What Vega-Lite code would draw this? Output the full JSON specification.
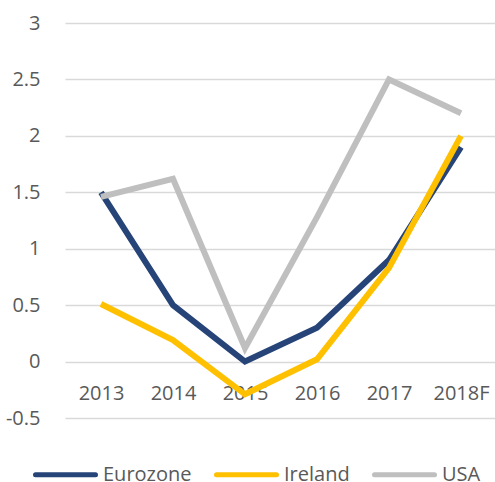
{
  "$schema": "https://vega.github.io/schema/vega-lite/v6.json",
  "autosize": "none",
  "width": 432,
  "height": 395,
  "padding": {"left": 65, "top": 23, "right": 0, "bottom": 64},
  "background": "white",
  "config": {
    "view": {"stroke": null},
    "font": "Open Sans",
    "axis": {"labelFont": "Open Sans", "labelFontSize": 20, "labelColor": "#595959"},
    "legend": {"labelFont": "Open Sans", "labelFontSize": 20, "labelColor": "#595959"}
  },
  "data": {
    "values": [
      {"year": "2013", "series": "Eurozone", "value": 1.5},
      {"year": "2014", "series": "Eurozone", "value": 0.5},
      {"year": "2015", "series": "Eurozone", "value": 0.0},
      {"year": "2016", "series": "Eurozone", "value": 0.3},
      {"year": "2017", "series": "Eurozone", "value": 0.9},
      {"year": "2018F", "series": "Eurozone", "value": 1.9},
      {"year": "2013", "series": "Ireland", "value": 0.51},
      {"year": "2014", "series": "Ireland", "value": 0.19},
      {"year": "2015", "series": "Ireland", "value": -0.29},
      {"year": "2016", "series": "Ireland", "value": 0.02},
      {"year": "2017", "series": "Ireland", "value": 0.83},
      {"year": "2018F", "series": "Ireland", "value": 2.0},
      {"year": "2013", "series": "USA", "value": 1.46},
      {"year": "2014", "series": "USA", "value": 1.62},
      {"year": "2015", "series": "USA", "value": 0.12},
      {"year": "2016", "series": "USA", "value": 1.28},
      {"year": "2017", "series": "USA", "value": 2.5},
      {"year": "2018F", "series": "USA", "value": 2.2}
    ]
  },
  "mark": {"type": "line", "strokeWidth": 6, "strokeJoin": "miter"},
  "encoding": {
    "x": {
      "field": "year",
      "type": "ordinal",
      "scale": {"type": "point", "padding": 0.5},
      "axis": {
        "title": null,
        "labelAngle": 0,
        "domain": false,
        "ticks": false,
        "grid": false,
        "offset": -56.5,
        "labelPadding": 22
      }
    },
    "y": {
      "field": "value",
      "type": "quantitative",
      "scale": {"domain": [-0.5, 3], "nice": false, "zero": false},
      "axis": {
        "title": null,
        "values": [-0.5, 0, 0.5, 1, 1.5, 2, 2.5, 3],
        "labelExpr": "datum.value + ''",
        "domain": false,
        "ticks": false,
        "grid": true,
        "gridColor": "#D9D9D9",
        "gridWidth": 1.5,
        "labelPadding": 25
      }
    },
    "color": {
      "field": "series",
      "type": "nominal",
      "scale": {"domain": ["Eurozone", "Ireland", "USA"], "range": ["#264478", "#FFC000", "#BFBFBF"]},
      "legend": {
        "title": null,
        "orient": "none",
        "direction": "horizontal",
        "legendX": -32,
        "legendY": 419,
        "symbolType": "stroke",
        "symbolSize": 3600,
        "symbolStrokeWidth": 5,
        "labelOffset": 5,
        "columnPadding": 14,
        "encode": {"symbols": {"update": {"strokeCap": {"value": "round"}}}}
      }
    }
  }
}
